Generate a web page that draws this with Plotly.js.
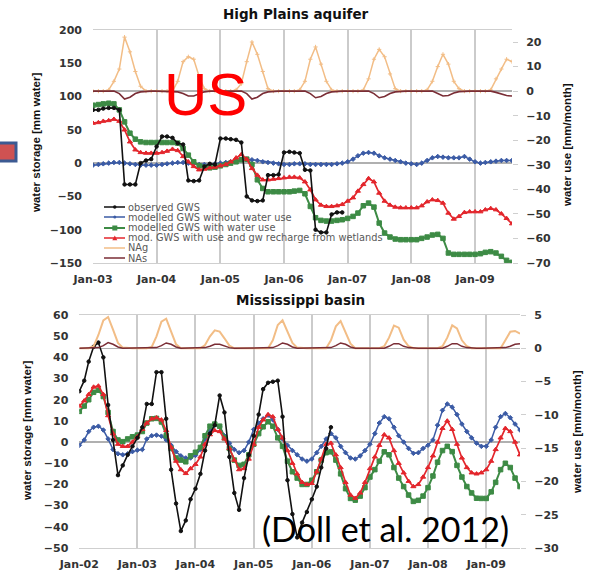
<!DOCTYPE html>
<html><head><meta charset="utf-8">
<script src="https://cdn.plot.ly/plotly-3.0.1.min.js"></script>
<style>html,body{margin:0;padding:0;background:#fff;}#chart{width:593px;height:572px;}</style>
</head><body><div id="chart"></div>
<script>
// ---------- DATA ----------
// High Plains aquifer: monthly, Jan 2003 .. Aug 2009
const hpStart = 2003, hpCount = 80;
const hpObserved = [80,80,82,83,83,80,-32,-32,-32,0,4,6,
  25,40,40,38,30,28,-26,-27,-26,-5,-1,-2,
  37,37,36,35,31,-50,-56,-57,-56,-18,-18,-17,
  16,17,16,15,-10,-11,-100,-104,-104,-77,-74,-74];
const hpNoUse = [-3,-2,-1,0,1,1,0,-1,-2,-3,-3,-3,
  -3,-2,-1,0,1,1,0,-1,-2,-2,-2,-1,
  0,1,2,3,5,6,5,4,2,1,0,-1,
  -2,-2,-1,-1,-1,-2,-2,-2,-2,-2,-1,0,
  2,6,11,15,16,15,11,8,6,4,2,0,
  -1,-2,0,4,8,10,9,8,8,8,10,6,
  2,0,1,2,3,4,4,4];
const hpWithUse = [87,88,89,90,89,80,62,45,36,32,31,31,
  31,31,31,31,30,22,12,2,-4,-6,-7,-6,
  -4,-2,0,2,5,6,-2,-25,-38,-43,-43,-43,
  -43,-43,-42,-41,-46,-65,-82,-86,-87,-87,-86,-85,
  -83,-80,-75,-64,-60,-66,-90,-105,-111,-114,-115,-115,
  -115,-115,-113,-111,-108,-107,-113,-135,-137,-137,-137,-137,
  -137,-136,-134,-133,-135,-140,-146,-149];
const hpWetlands = [60,61,63,64,66,63,50,32,20,16,15,15,
  15,16,18,21,19,10,2,-5,-10,-9,-7,-6,
  -4,-2,2,8,13,6,-8,-18,-25,-25,-24,-23,
  -22,-21,-21,-22,-28,-40,-55,-63,-65,-65,-64,-62,
  -57,-52,-42,-32,-23,-28,-45,-57,-63,-66,-67,-67,
  -67,-67,-64,-58,-55,-56,-60,-75,-84,-80,-74,-73,
  -73,-73,-70,-68,-70,-76,-83,-91];
const hpNAg = [0,0,0,0.5,4,9,22,16,8,2,0,0,
  0,0,0,0,4,12,14,13,6,1,0,0,
  0,0,0,0.5,3,12,20,15,8,1,0,0,
  0,0,0,0.5,4,13,18,11,4,0.5,0,0,
  0,0,0,0.5,5,13,17,14,7,1,0,0,
  0,0,0,0.5,4,10,15,11,4,1,0,0,
  0,0,0,0.5,5,9,13,12];
const hpNAs = [0,0,0,0,0,-1,-3.2,-2.5,-1,-0.3,0,0,
  0,0,0,0,-0.3,-1,-2,-2,-1,-0.3,0,0,
  0,0,0,0,0,-1,-3.2,-2.5,-1,-0.3,0,0,
  0,0,0,0,0,-1,-2.7,-2.2,-1,-0.3,0,0,
  0,0,0,0,0,-1,-2.7,-2.2,-1,-0.3,0,0,
  0,0,0,0,0,-1,-2,-1.8,-0.8,-0.2,0,0,
  0,0,0,0,-0.5,-1.2,-1.8,-2];

// Mississippi basin: monthly, Jan 2002 .. Aug 2009
const msStart = 2002, msCount = 92;
const msObserved = [24,29,38,45,47,40,17.5,1,-15.6,-11,-6,-2,
  2,7,18,18,33,33,11,-13,-29,-42,-37,-27,
  -22,-15,-4,4,8,22,14,-7,-24,-32,-17,-6,
  3,13,25,28,28.5,29,12,-18,-34,-45,-38,-33,
  -27,-21,-12,-3,7];
const msNoUse = [-1.5,1,5,7,7.5,5.7,1.5,-3.5,-5.5,-6,-5.5,-4.5,
  -3.8,-3.5,1.5,3,3.3,2.8,1,-1.5,-4.5,-6.5,-7.5,-7.5,
  -6.3,-3.5,1.5,5.5,8,7.5,3,-0.5,-3.5,-5,-4,0,
  6,9,11,12.7,10.5,6,1.5,-1.5,-4,-6,-8,-9,
  -8,-5,-2,1.5,4,2,-2,-5,-7.5,-8,-6.5,-4,
  -1,4,9,12,11,7,3,0,-3,-5.3,-5,-3,
  -1.5,1,8,15,18,16.5,13,8.5,5,2,-0.5,-2,
  -2,1,7,12,13.5,11.5,8.5,5.7];
const msWithUse = [14.5,17,20,23.5,24.5,21.5,14,5,1,0.2,1.5,2.5,
  3.3,5,9,11,11.2,9.5,3,-3,-7.5,-8.5,-9.3,-6.5,
  -4.8,-2.5,3,7.5,8.5,7.5,2,-3,-8.5,-11,-10.5,-6,
  -1,4,7.2,9.6,7.5,2,-2,-9,-14,-17,-20,-20,
  -18,-14,-8.5,-5,-4.6,-8.5,-15,-22,-26.6,-27.4,-25.5,-21.5,
  -16.5,-13,-9,-4.6,-6,-12,-17,-21,-25,-28,-27.5,-25.5,
  -21.5,-16,-9.5,-4,-2,-4.5,-11,-16.5,-21,-24,-26.5,-26.6,
  -26.6,-23.5,-19,-13,-10,-12,-17,-21];
const msWetlands = [17,19.5,22.5,26,26.5,22.5,12.5,4,-1,-2,-2,0,
  2.5,6,9,11,11.5,10.5,5.5,-2.5,-9,-13,-14.8,-12.5,
  -10.5,-7,-1,3.5,5.5,5,1.5,-3,-8.5,-13,-12.5,-8,
  -1,7,10.5,13,12,6,2,-4,-10,-15,-19,-20,
  -19.5,-14,-8,-1,-0.5,-6,-12,-19,-25,-26.5,-24,-19,
  -12.5,-7,-1.5,3.5,2,-4,-10,-14.5,-18.5,-21,-20,-16.5,
  -12,-6.5,0,6.5,10,6,-1,-7.5,-12,-14.5,-15,-14.5,
  -13,-9,-3.5,2,6.5,5,0,-6];
const msNAg = [0,0,0,0.3,2,4.2,4.7,2.8,0.8,0.1,0,0,
  0,0,0,0.2,1.8,4,4.45,2.5,0.6,0,0,0,
  0,0,0.5,1.8,2.7,2.5,1.5,0.4,0,0,0,0,
  0,0,0,0,1.2,3.5,4.2,2.6,0.8,0.1,0,0,
  0,0,0,0,1.2,3.3,4.1,2.5,0.7,0,0,0,
  0,0,0,0.3,1.6,3.4,3.1,1.3,0.3,0,0,0,
  0,0,0,0.3,1.6,3.45,3,1.2,0.3,0,0,0,
  0,0,0,0,1.2,2.5,2.6,2.2];
const msNAs = [0,0,0,0,0.1,0.4,0.85,0.6,0.2,0,0,0,
  0,0,0,0,0.1,0.4,0.8,0.6,0.2,0,0,0,
  0,0,0.1,0.3,0.6,0.6,0.3,0.1,0,0,0,0,
  0,0,0,0,0.1,0.4,0.8,0.6,0.2,0,0,0,
  0,0,0,0,0.1,0.4,0.8,0.6,0.2,0,0,0,
  0,0,0,0,0.3,0.7,0.7,0.3,0.1,0,0,0,
  0,0,0,0,0.3,0.7,0.7,0.3,0.1,0,0,0,
  0,0,0,0,0.1,0.3,0.6,0.7];

const hpYearTicks = ['Jan-03','Jan-04','Jan-05','Jan-06','Jan-07','Jan-08','Jan-09'];
const msYearTicks = ['Jan-02','Jan-03','Jan-04','Jan-05','Jan-06','Jan-07','Jan-08','Jan-09'];
const seriesNames = ['observed GWS','modelled GWS without water use','modelled GWS with water use',
  'mod. GWS with use and gw recharge from wetlands','NAg','NAs'];

// ---------- helpers ----------
function months(y0, n){const a=[];for(let i=0;i<n;i++){const y=y0+Math.floor(i/12),m=i%12+1;a.push(y+'-'+(m<10?'0':'')+m+'-01');}return a;}
function janTicks(labels){return labels.map(l=>'20'+l.slice(4)+'-01-01');}
const hpX = months(hpStart,hpCount), msX = months(msStart,msCount);

const C = {obs:'#111111', nouse:'#3b5ba5', use:'#3d8b45', wet:'#e3262c', nag:'#f2bd86', nas:'#7a2d35'};
function tr(x,y,name,color,xa,ya,sym,size,w){
  return {type:'scatter',mode:sym?'lines+markers':'lines',x:x,y:y,name:name,xaxis:xa,yaxis:ya,showlegend:false,
    line:{color:color,width:w},marker:{symbol:sym||'circle',size:size||3,color:color,line:{width:1,color:color}}};
}
const data = [
  tr(hpX,hpNoUse,seriesNames[1],C.nouse,'x','y','diamond',3.5,1.5),
  tr(hpX,hpWithUse,seriesNames[2],C.use,'x','y','square',4.5,2),
  tr(hpX,hpWetlands,seriesNames[3],C.wet,'x','y','triangle-up',4.5,1.7),
  tr(hpX,hpObserved,seriesNames[0],C.obs,'x','y','circle',3.5,1.6),
  tr(hpX,hpNAg,seriesNames[4],C.nag,'x','y2','cross-thin-open',3,1.5),
  tr(hpX,hpNAs,seriesNames[5],C.nas,'x','y2',null,0,1.6),
  tr(msX,msNoUse,seriesNames[1],C.nouse,'x2','y3','diamond',3.5,1.5),
  tr(msX,msWithUse,seriesNames[2],C.use,'x2','y3','square',4.5,2),
  tr(msX,msWetlands,seriesNames[3],C.wet,'x2','y3','triangle-up',4.5,1.7),
  tr(msX,msObserved,seriesNames[0],C.obs,'x2','y3','circle',3.5,1.6),
  tr(msX,msNAg,seriesNames[4],C.nag,'x2','y4',null,0,2),
  tr(msX,msNAs,seriesNames[5],C.nas,'x2','y4',null,0,1.5)
];

const W=593,H=572;
const px=v=>v/W, py=v=>1-v/H;
const tickFont={family:'DejaVu Sans',size:11,color:'#333',weight:'bold'};
const gridC='#cbcbcb', lineC='#cfcfcf', zeroC='#b0b0b0';
function xax(dom,anchor,r,labels){return {domain:dom,anchor:anchor,type:'date',range:r,tickvals:janTicks(labels),ticktext:labels,
  showgrid:true,gridcolor:gridC,gridwidth:2,showline:true,mirror:true,linecolor:lineC,linewidth:1,ticks:'',tickfont:tickFont,zeroline:false,ticklabelstandoff:6};}
function yl(dom,anchor,r,dt){return {domain:dom,anchor:anchor,range:r,dtick:dt,tick0:0,showgrid:false,zeroline:true,zerolinecolor:zeroC,zerolinewidth:1.3,
  showline:false,ticks:'',tickfont:tickFont,ticklabelstandoff:10};}
function yr(over,anchor,r,vals){return {overlaying:over,anchor:anchor,side:'right',range:r,tickvals:vals,showgrid:false,zeroline:true,zerolinecolor:zeroC,zerolinewidth:1.3,
  showline:false,ticks:'outside',ticklen:5,tickcolor:'#cfcfcf',tickfont:tickFont,ticklabelstandoff:6};}

const layout = {
  width:W,height:H,margin:{l:0,r:0,t:0,b:0},paper_bgcolor:'#fff',plot_bgcolor:'#fff',showlegend:false,
  xaxis: xax([px(93),px(512)],'y',['2003-01-01','2009-08-01'],hpYearTicks),
  yaxis: yl([py(263),py(30)],'x',[-150,200],50),
  yaxis2: yr('y','x',[-70,24.9],[-70,-60,-50,-40,-30,-20,-10,0,10,20]),
  xaxis2: xax([px(79.3),px(520)],'y3',['2002-01-01','2009-08-01'],msYearTicks),
  yaxis3: yl([py(548),py(315)],'x2',[-50,60],10),
  yaxis4: yr('y3','x2',[-30,5],[-30,-25,-20,-15,-10,-5,0,5]),
  annotations:[], shapes:[]
};
const A=layout.annotations, S=layout.shapes;
function ann(x,y,text,font,extra){A.push(Object.assign({xref:'paper',yref:'paper',x:px(x),y:py(y),text:text,showarrow:false,font:font,xanchor:'center',yanchor:'middle'},extra||{}));}
ann(296,14,'High Plains aquifer',{family:'DejaVu Sans',size:13.5,weight:'bold',color:'#111'});
ann(300,300,'Mississippi basin',{family:'DejaVu Sans',size:13.5,weight:'bold',color:'#111'});
const axT={family:'Liberation Sans Narrow, Liberation Sans',size:11.5,weight:'bold',color:'#111'};
ann(36,143,'water storage [mm water]',axT,{textangle:-90});
ann(567,145,'water use [mm/month]',axT,{textangle:-90});
ann(27,431,'water storage [mm water]',axT,{textangle:-90});
ann(577,432,'water use [mm/month]',axT,{textangle:-90});
ann(205,94,'US',{family:'Liberation Sans',size:60,color:'#ff0000'});
ann(385,528,'(Doll et al. 2012)',{family:'Lato',size:34,color:'#000'});

// legend (top panel)
const legColors=[C.obs,C.nouse,C.use,C.wet,C.nag,C.nas];
const legRows=[207,217,228,238,248,258];
legRows.forEach((yy,i)=>{
  S.push({type:'line',xref:'paper',yref:'paper',x0:px(104),x1:px(125),y0:py(yy),y1:py(yy),line:{color:legColors[i],width:i==2?2:1.5}});
  ann(126,yy,seriesNames[i],{family:'DejaVu Sans',size:9.8,color:'#595959'},{xanchor:'left'});
});
S.push({type:'circle',xref:'paper',yref:'paper',x0:px(113),x1:px(116.5),y0:py(208.7),y1:py(205.3),fillcolor:C.obs,line:{width:0}});
S.push({type:'circle',xref:'paper',yref:'paper',x0:px(113.3),x1:px(116.3),y0:py(218.5),y1:py(215.5),fillcolor:C.nouse,line:{width:0}});
S.push({type:'rect',xref:'paper',yref:'paper',x0:px(112.3),x1:px(117.3),y0:py(230.5),y1:py(225.5),fillcolor:C.use,line:{width:0}});
S.push({type:'path',xref:'paper',yref:'paper',path:'M '+px(112.3)+' '+py(240.3)+' L '+px(117.3)+' '+py(240.3)+' L '+px(114.8)+' '+py(235.5)+' Z',fillcolor:C.wet,line:{width:0}});
// slide decoration at left edge
S.push({type:'rect',xref:'paper',yref:'paper',x0:px(-4),x1:px(16),y0:py(161),y1:py(143),fillcolor:'#cf5252',line:{color:'#3c5a92',width:3}});

Plotly.newPlot('chart',data,layout,{displayModeBar:false,staticPlot:true});
</script></body></html>
